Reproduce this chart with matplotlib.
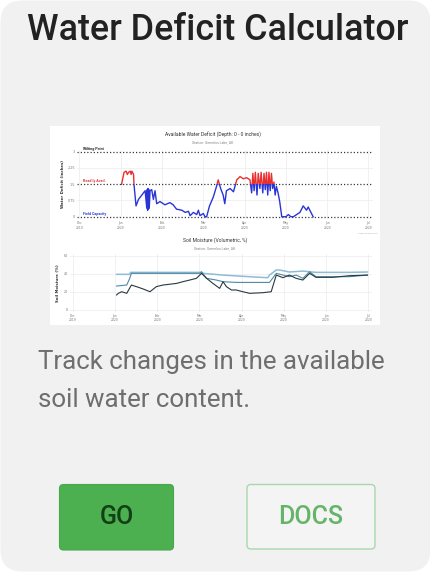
import matplotlib
matplotlib.use("Agg")
import matplotlib.pyplot as plt
from matplotlib.patches import FancyBboxPatch, Rectangle
import numpy as np

# ---------------- data ----------------
month_labels = ["Dec\n2019", "Jan\n2020", "Feb\n2020", "Mar\n2020",
                "Apr\n2020", "May\n2020", "Jun\n2020", "Jul\n2020"]
month_ticks = [0, 1, 2, 3, 4, 5, 6, 7]

# Available water deficit (inches) vs. month position
deficit_x = [1.02, 1.08, 1.13, 1.16, 1.19, 1.23, 1.25, 1.27, 1.31, 1.32, 1.37, 1.43,
             1.51, 1.59, 1.63, 1.64, 1.65, 1.66, 1.67, 1.68, 1.69, 1.71, 1.75, 1.79,
             1.83, 1.87, 1.95, 2.07, 2.19, 2.27, 2.35, 2.48, 2.56, 2.64, 2.68, 2.76,
             2.84, 2.88, 2.92, 3.00, 3.04, 3.08, 3.15, 3.24, 3.32, 3.36, 3.42, 3.48,
             3.52, 3.56, 3.65, 3.73, 3.81, 3.89, 3.97, 4.05, 4.13,
             4.17, 4.20, 4.23, 4.26, 4.30, 4.33, 4.37, 4.40, 4.44, 4.47, 4.50, 4.53,
             4.56, 4.59, 4.62, 4.65, 4.68, 4.71, 4.74, 4.77,
             4.81, 4.85, 4.90, 4.94, 5.00, 5.06, 5.12, 5.18, 5.34, 5.42, 5.50, 5.54, 5.66]
deficit_y = [1.50, 2.05, 2.10, 1.95, 2.05, 2.10, 1.95, 2.10, 1.95, 1.50, 0.50, 0.80,
             1.00, 1.20, 0.40, 1.25, 0.30, 1.30, 0.35, 1.25, 0.40, 1.20, 1.25, 0.80,
             1.20, 0.60, 0.70, 0.55, 0.65, 0.55, 0.35, 0.30, 0.20, 0.25, 0.05, 0.20,
             0.10, 0.30, 0.05, 0.15, 0.00, 0.00, 0.50, 0.90, 1.40, 1.70, 1.30, 1.00,
             0.60, 1.20, 1.30, 1.15, 1.70, 1.85, 1.75, 1.80, 1.70,
             1.10, 2.00, 1.20, 2.05, 1.00, 2.00, 1.30, 2.05, 1.10, 2.00, 1.25, 2.05,
             1.00, 2.05, 1.20, 2.00, 1.30, 1.60, 1.00, 1.40,
             1.10, 0.70, 0.00, 0.00, 0.00, 0.10, 0.00, 0.00, 0.20, 0.50, 0.30, 0.45, 0.00]
deficit_levels = [3.0, 1.5, 0.0]
deficit_level_names = ["Wilting Point", "Readily Avail.", "Field Capacity"]
deficit_yticks = [0, 0.75, 1.5, 2.25, 3]

# Soil moisture (volumetric %) for three depths
sm_light_x = [1.04, 1.35, 1.37, 3.05, 3.09, 3.56, 4.19, 4.62, 4.66, 4.82, 4.90,
              5.13, 5.45, 5.76, 6.55, 6.98]
sm_light_y = [39.4, 39.4, 41.6, 41.6, 40.5, 38.6, 36.8, 35.7, 38.6, 44.2, 44.2,
              42.0, 43.0, 41.6, 41.6, 42.0]
sm_mid_x = [1.04, 1.28, 1.35, 1.39, 3.01, 3.05, 3.17, 3.40, 3.56, 3.87, 4.66,
            4.82, 4.98, 5.13, 5.29, 5.45, 5.61, 5.76, 6.55, 6.98]
sm_mid_y = [26.5, 27.6, 35.0, 40.5, 40.5, 42.3, 35.0, 33.1, 31.3, 30.5, 30.5,
            40.5, 38.6, 36.8, 38.6, 35.0, 42.3, 36.8, 36.8, 38.6]
sm_dark_x = [1.04, 1.08, 1.16, 1.28, 1.39, 1.51, 1.67, 1.83, 1.98, 2.14, 2.46,
             2.61, 2.77, 2.93, 3.05, 3.17, 3.32, 3.48, 3.56, 3.64, 3.76, 3.87,
             4.03, 4.19, 4.50, 4.70, 4.82, 4.98, 5.13, 5.29, 5.45, 5.61, 5.76,
             6.16, 6.55, 6.98]
sm_dark_y = [16.6, 18.4, 20.2, 18.4, 27.6, 25.8, 23.2, 20.2, 25.8, 27.6, 29.4,
             31.3, 33.1, 35.0, 40.5, 35.0, 29.4, 23.9, 31.3, 25.8, 22.1, 22.1,
             20.2, 18.4, 19.1, 20.2, 38.6, 35.7, 38.6, 35.0, 33.1, 40.5, 36.1,
             36.1, 37.9, 38.6]
sm_yticks = [0, 20, 40, 60]

card_title = "Water Deficit Calculator"
card_text = ["Track changes in the available", "soil water content."]

# ---------------- layout ----------------
W, H = 431, 572
fig = plt.figure(figsize=(W / 100, H / 100), dpi=100)
fig.patch.set_facecolor("white")

def rect(x0, y0, x1, y1):
    return [x0 / W, 1 - y1 / H, (x1 - x0) / W, (y1 - y0) / H]

bg = fig.add_axes([0, 0, 1, 1])
bg.set_xlim(0, W)
bg.set_ylim(H, 0)
bg.axis("off")

bg.add_patch(FancyBboxPatch((0.5, 0.5), W - 1, H - 1,
                            boxstyle="round,pad=0,rounding_size=22",
                            fc="#f1f1f1", ec="none"))
bg.text(27, 40, card_title, family=["Roboto", "DejaVu Sans"], weight=500,
        fontsize=25.8, color="#222222", va="baseline", ha="left")
bg.add_patch(Rectangle((50, 126), 330, 199, fc="white", ec="none"))

for i, line in enumerate(card_text):
    bg.text(38, 369.5 + i * 37.3, line, family=["Roboto", "DejaVu Sans"],
            fontsize=18.6, color="#6e6e6e", va="baseline", ha="left")

bg.add_patch(FancyBboxPatch((59.5, 484.5), 114, 65.5,
                            boxstyle="round,pad=0,rounding_size=4",
                            fc="#4caf50", ec="#47a84b", lw=0.8))
bg.text(116.5, 517.5, "GO", family=["Roboto", "DejaVu Sans"], weight=500,
        fontsize=18, color="#123f15", va="center", ha="center")
bg.add_patch(FancyBboxPatch((247, 484.5), 128, 64.5,
                            boxstyle="round,pad=0,rounding_size=4",
                            fc="#f4f4f4", ec="#a9d7ab", lw=1.0))
bg.text(311, 517, "DOCS", family=["Roboto", "DejaVu Sans"], weight=500,
        fontsize=18, color="#66b46a", va="center", ha="center")

tiny = dict(family=["Roboto", "DejaVu Sans"])

# -------- top chart: available water deficit --------
ax1 = fig.add_axes(rect(77, 149.5, 373, 218.9))
ax1.set_xlim(-0.06, 7.11)
ax1.set_ylim(-0.1, 3.1)
for m in month_ticks:
    ax1.axvline(m, color="#ececec", lw=0.5, zorder=0)
for yv in [0.75, 2.25]:
    ax1.axhline(yv, color="#ececec", lw=0.5, zorder=0)
for lv in deficit_levels:
    ax1.axhline(lv, color="#3a3a3a", lw=0.9, ls=(0, (1, 1.6)), zorder=1)

blue_line, = ax1.plot(deficit_x, deficit_y, color="#2a35d8", lw=1.0, zorder=3)
red_line, = ax1.plot(deficit_x, deficit_y, color="#e8302f", lw=1.0, zorder=4)
red_clip = Rectangle((-1, 1.5), 10, 3, transform=ax1.transData)
blue_clip = Rectangle((-1, -1), 10, 2.5, transform=ax1.transData)
red_line.set_clip_path(red_clip)
blue_line.set_clip_path(blue_clip)

lvl_colors = ["#222222", "#e0302e", "#2a35d8"]
for lv, name, c in zip(deficit_levels, deficit_level_names, lvl_colors):
    ax1.text(0.08, lv + 0.04, name, fontsize=2.6, color=c, va="bottom",
             ha="left", weight="bold", **tiny)

ax1.set_xticks(month_ticks)
ax1.set_xticklabels(month_labels, fontsize=2.2, color="#777777", linespacing=1.2)
ax1.set_yticks(deficit_yticks)
ax1.set_yticklabels([f"{v:g}" for v in deficit_yticks], fontsize=2.4, color="#777777")
ax1.tick_params(length=0, pad=1.5)
for s in ax1.spines.values():
    s.set_visible(False)
ax1.set_ylabel("Water Deficit (inches)", fontsize=2.8, weight="bold",
               color="#333333", labelpad=2)

bg.text(213, 135, "Available Water Deficit (Depth: 0 - 0 inches)", fontsize=3.6,
        color="#333333", ha="center", va="center", **tiny)
bg.text(213, 142.5, "Station: Gemelos Lake, AK", fontsize=2.5,
        color="#888888", ha="center", va="center", **tiny)
bg.text(378, 233, "Generated by ACIS", fontsize=1.7, color="#aaaaaa",
        ha="right", va="center", **tiny)

# -------- bottom chart: soil moisture --------
ax2 = fig.add_axes(rect(70, 254, 372, 311.7))
ax2.set_xlim(-0.064, 7.087)
ax2.set_ylim(-1.9, 61.9)
for m in month_ticks:
    ax2.axvline(m, color="#ececec", lw=0.5, zorder=0)
for yv in sm_yticks:
    ax2.axhline(yv, color="#ececec", lw=0.5, zorder=0)
ax2.plot(sm_light_x, sm_light_y, color="#8fbcd4", lw=1.1, zorder=3)
ax2.plot(sm_mid_x, sm_mid_y, color="#4d8aa3", lw=0.8, zorder=4)
ax2.plot(sm_dark_x, sm_dark_y, color="#263a40", lw=0.8, zorder=5)
ax2.set_xticks(month_ticks)
ax2.set_xticklabels(month_labels, fontsize=2.2, color="#777777", linespacing=1.2)
ax2.set_yticks(sm_yticks)
ax2.set_yticklabels([str(v) for v in sm_yticks], fontsize=2.4, color="#777777")
ax2.tick_params(length=0, pad=1.5)
for s in ax2.spines.values():
    s.set_visible(False)
ax2.set_ylabel("Soil Moisture (%)", fontsize=2.8, weight="bold",
               color="#333333", labelpad=3)

bg.text(215, 240, "Soil Moisture (Volumetric, %)", fontsize=3.6,
        color="#333333", ha="center", va="center", **tiny)
bg.text(215, 248.5, "Station: Gemelos Lake, AK", fontsize=2.5,
        color="#888888", ha="center", va="center", **tiny)

fig.savefig("out.png", dpi=100, facecolor="white")
